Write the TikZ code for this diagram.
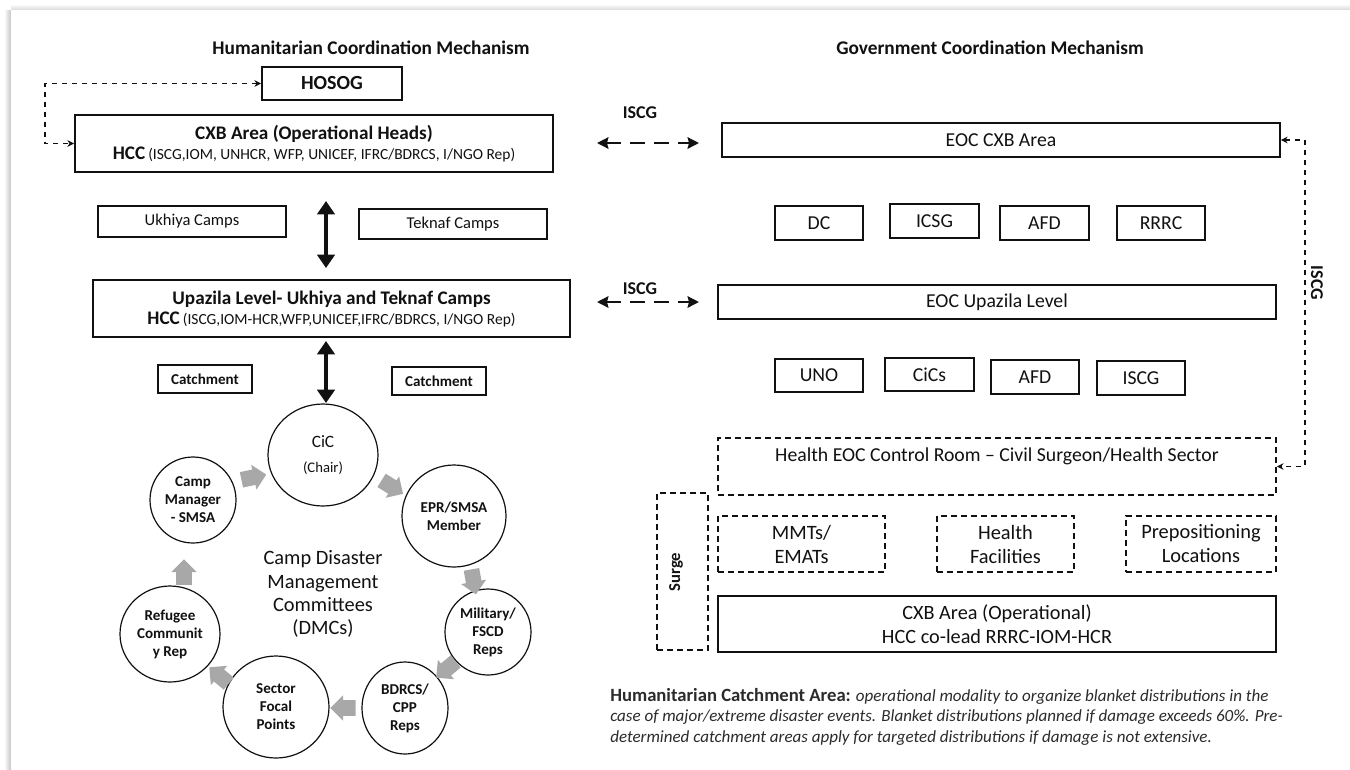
\documentclass[tikz,border=0pt]{standalone}
\usepackage{fontspec}
\setmainfont{Carlito}
\usetikzlibrary{shapes.geometric,shapes.arrows,arrows.meta,calc}
\definecolor{ink}{HTML}{111111}
\definecolor{garr}{HTML}{A8A8A8}
\definecolor{note}{HTML}{2B2B2B}
\newcommand{\fs}[2]{\fontsize{#1}{#2}\selectfont}
\tikzset{
  sz/.style 2 args={minimum width=#1*0.75pt, minimum height=#2*0.75pt},
  box/.style={draw=ink, line width=1.4pt, fill=white, inner sep=0pt, align=center, text=ink},
  dbox/.style={box, line width=1.3pt, dash pattern=on 4.5pt off 3pt},
  circ/.style={ellipse, draw=ink, line width=0.9pt, inner sep=0pt, align=center, text=ink, font=\bfseries\fs{11.3}{13.5}},
  garrow/.style={single arrow, fill=garr, draw=none, minimum height=19pt, minimum width=19pt, single arrow head extend=3.5pt, inner sep=5.5pt},
  bigarr/.style={line width=3pt, draw=ink, {Triangle[length=10pt,width=13pt]}-{Triangle[length=10pt,width=13pt]}},
  iscgarr/.style={line width=1.9pt, draw=ink, dash pattern=on 11pt off 7pt, {Stealth[length=8.5pt,width=8.5pt,inset=1pt]}-{Stealth[length=8.5pt,width=8.5pt,inset=1pt]}},
  thinarr/.style={line width=1.1pt, draw=ink, dash pattern=on 4pt off 3.5pt, {Stealth[length=5pt,width=5pt]}-{Stealth[length=5pt,width=5pt]}},
  title/.style={font=\bfseries\fs{14.5}{17}, text=ink},
  rtxt/.style={font=\fs{14.8}{17}},
}
\begin{document}
\begin{tikzpicture}[x=0.75pt,y=-0.75pt]
\useasboundingbox (0,0) rectangle (1350,769);
\fill[white] (0,0) rectangle (1350,769);
% page shadow
\shade[left color=white, right color=gray!45] (4,10) rectangle (11,769);
\shade[top color=white, bottom color=gray!30] (11,4) rectangle (1350,10);
\fill[white] (11,10) rectangle (1350,769);

% titles
\node[title] (t1) at (371,48) {Humanitarian Coordination Mechanism};
\node[title] (t2) at (990,48) {Government Coordination Mechanism};

% ---------- left side ----------
\node[box, sz={140}{33}, font=\bfseries\fs{15}{17}] (hosog) at (332,83.5) {HOSOG};
\node[box, sz={478}{57}] (cxb) at (314,143.5) {{\bfseries\fs{14.4}{16}CXB Area (Operational Heads)}\\[3pt]{\bfseries\fs{14.4}{16}HCC} {\fs{11.6}{13}(ISCG,IOM, UNHCR, WFP, UNICEF, IFRC/BDRCS, I/NGO Rep)}};
\node[box, sz={188}{31}, font=\fs{12.4}{14}] (ukhiya) at (192,221.5) {Ukhiya Camps};
\node[box, sz={188}{30}, font=\fs{12.4}{14}] (teknaf) at (453,224) {Teknaf Camps};
\node[box, sz={477}{57}] (upazila) at (331.5,308.5) {{\bfseries\fs{14.4}{16}Upazila Level- Ukhiya and Teknaf Camps}\\[3pt]{\bfseries\fs{14.4}{16}HCC} {\fs{11.6}{13}(ISCG,IOM-HCR,WFP,UNICEF,IFRC/BDRCS, I/NGO Rep)}};
\node[box, sz={94}{28}, font=\bfseries\fs{11.3}{13}] (catch1) at (205,379) {Catchment};
\node[box, sz={94}{28}, font=\bfseries\fs{11.3}{13}] (catch2) at (439,381) {Catchment};

\draw[thinarr] (hosog.west) -| (45,143.5) -- (cxb.west);

\coordinate (ba1) at (326,201);
\coordinate (ba2) at (326,268);
\coordinate (ba3) at (326,341);
\coordinate (ba4) at (326,403);
\draw[bigarr] (ba1) -- (ba2);
\draw[bigarr] (ba3) -- (ba4);

% circles
\node[circ, sz={110}{102}, font=\fs{13}{19}] (cic) at (323,455) {CiC\\{\fs{11}{13}(Chair)}};
\node[circ, sz={86}{86}] (campmgr) at (193,500) {Camp\\Manager\\- SMSA};
\node[circ, sz={104}{102}] (epr) at (454,516) {EPR/SMSA\\Member};
\node[circ, sz={86}{86}] (military) at (488,632) {Military/\\FSCD\\Reps};
\node[circ, sz={86}{92}] (bdrcs) at (405,708) {BDRCS/\\CPP\\Reps};
\node[circ, sz={106}{102}] (sector) at (276,707) {Sector\\Focal\\Points};
\node[circ, sz={100}{96}] (refugee) at (170,634) {Refugee\\Communit\\y Rep};
\node[align=center, text=ink, font=\fs{15.3}{17.4}] (dmc) at (323,594) {Camp Disaster\\Management\\Committees\\(DMCs)};

\node[garrow, rotate=12] (g1) at (250,478) {};
\node[garrow, rotate=-32] (g2) at (389,485) {};
\node[garrow, rotate=-80] (g3) at (473,578) {};
\node[garrow, rotate=-140] (g4) at (449,667) {};
\node[garrow, rotate=180] (g5) at (347,708) {};
\node[garrow, rotate=140] (g6) at (222,678) {};
\node[garrow, rotate=90] (g7) at (184,576) {};

% ---------- right side ----------
\node[box, sz={558}{34}, rtxt] (eoccxb) at (1001,140) {EOC CXB Area};
\node[box, sz={88}{34}, rtxt] (dc) at (819,223) {DC};
\node[box, sz={89}{34}, rtxt] (icsg) at (934.5,221) {ICSG};
\node[box, sz={89}{34}, rtxt] (afd1) at (1044.5,223) {AFD};
\node[box, sz={88}{34}, rtxt] (rrrc) at (1161,223) {RRRC};

\node[box, sz={558}{34}, rtxt] (eocupa) at (997,302) {EOC Upazila Level};
\node[box, sz={88}{33}, rtxt] (uno) at (819,375.5) {UNO};
\node[box, sz={89}{33}, rtxt] (cics) at (929.5,374.5) {CiCs};
\node[box, sz={88}{34}, rtxt] (afd2) at (1035,377) {AFD};
\node[box, sz={88}{34}, rtxt] (iscgb) at (1141,378) {ISCG};

% ISCG links
\node[font=\bfseries\fs{13.5}{15}, text=ink] (il1) at (640,113) {ISCG};
\coordinate (i1a) at (597,143);
\coordinate (i1b) at (699,143);
\draw[iscgarr] (i1a) -- (i1b);
\node[font=\bfseries\fs{13.5}{15}, text=ink] (il2) at (640,289) {ISCG};
\coordinate (i2a) at (597,302);
\coordinate (i2b) at (699,302);
\draw[iscgarr] (i2a) -- (i2b);

% health
\node[dbox, sz={558}{57}] (healtheoc) at (997,466.5) {};
\node[rtxt, text=ink] (healthtxt) at (997,456) {Health EOC Control Room -- Civil Surgeon/Health Sector};
\draw[thinarr] (eoccxb.east) -- (1305,140) |- (healtheoc.east);
\node[font=\bfseries\fs{13.5}{15}, text=ink, rotate=-90] (il3) at (1317,283) {ISCG};

\node[dbox, sz={51}{157}] (surge) at (682.5,571.5) {};
\node[font=\bfseries\fs{12.5}{14}, text=ink, rotate=90] (surgetxt) at (676,572) {Surge};
\node[dbox, sz={167}{56}, font=\fs{15.3}{18}] (mmts) at (801.5,544) {MMTs/\\EMATs};
\node[dbox, sz={137}{56}, font=\fs{15.3}{18}] (hfac) at (1005.5,544) {Health\\Facilities};
\node[dbox, sz={150}{56}, font=\fs{15.3}{18}] (prepos) at (1201,544) {Prepositioning\\Locations};
\node[box, sz={558}{56}, font=\fs{15.2}{18}] (cxbop) at (997,624) {CXB Area (Operational)\\HCC co-lead RRRC-IOM-HCR};

% note
\node[anchor=north west, align=left, text=note, inner sep=0pt, font=\itshape\fs{12.75}{15.4}] (notes) at (610,688)
 {{\upshape\bfseries\fs{14}{15.4}Humanitarian Catchment Area:} operational modality to organize blanket distributions in the\\
  case of major/extreme disaster events. Blanket distributions planned if damage exceeds 60\%. Pre-\\
  determined catchment areas apply for targeted distributions if damage is not extensive.};
\end{tikzpicture}
\end{document}
